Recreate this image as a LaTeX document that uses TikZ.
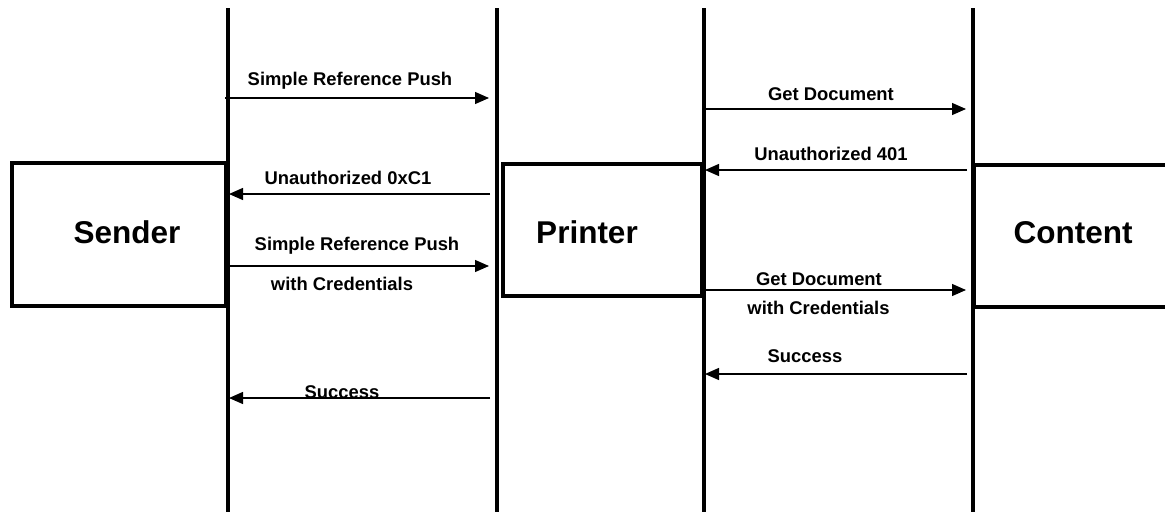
\documentclass[tikz,border=0pt]{standalone}
\usepackage{fontspec}
\setmainfont{Liberation Sans}
\usetikzlibrary{arrows.meta}
\tikzset{
  lifeline/.style={line width=4.2pt},
  actorbox/.style={line width=4pt},
  msg/.style={line width=1.3pt,-{Triangle[length=14pt,width=12pt]}},
  lbl/.style={anchor=base,inner sep=0pt,font=\bfseries\fontsize{18.4}{22}\selectfont},
  big/.style={anchor=base,inner sep=0pt,font=\bfseries\fontsize{31.5}{36}\selectfont}
}
\begin{document}
\begin{tikzpicture}[x=1pt,y=-1pt]
\useasboundingbox (0,0) rectangle (1165,512);
% lifeline ends
\coordinate (sT) at (228,8);  \coordinate (sB) at (228,512);
\coordinate (pT) at (497,8);  \coordinate (pB) at (497,512);
\coordinate (qT) at (704,8);  \coordinate (qB) at (704,512);
\coordinate (cT) at (973,8);  \coordinate (cB) at (973,512);
% boxes
\draw[actorbox] (12,163) rectangle (226,306);
\node[big] (sender) at (127,243) {Sender};
\draw[actorbox] (503,164) rectangle (702,296);
\node[big] (printer) at (587,243) {Printer};
\draw[actorbox] (1168,165) -- (974,165) -- (974,307) -- (1168,307);
\node[big] (content) at (1073,243) {Content};
% lifelines
\draw[lifeline] (sT) -- (sB);
\draw[lifeline] (pT) -- (pB);
\draw[lifeline] (qT) -- (qB);
\draw[lifeline] (cT) -- (cB);
% message end points
\coordinate (m1a) at (225,98);  \coordinate (m1b) at (489,98);
\coordinate (m2a) at (490,194); \coordinate (m2b) at (229,194);
\coordinate (m3a) at (229,266); \coordinate (m3b) at (489,266);
\coordinate (m4a) at (490,398); \coordinate (m4b) at (229,398);
\coordinate (m5a) at (705,109); \coordinate (m5b) at (966,109);
\coordinate (m6a) at (967,170); \coordinate (m6b) at (705,170);
\coordinate (m7a) at (705,290); \coordinate (m7b) at (966,290);
\coordinate (m8a) at (967,374); \coordinate (m8b) at (705,374);
% messages
\draw[msg] (m1a) -- (m1b);
\draw[msg] (m2a) -- (m2b);
\draw[msg] (m3a) -- (m3b);
\draw[msg] (m4a) -- (m4b);
\draw[msg] (m5a) -- (m5b);
\draw[msg] (m6a) -- (m6b);
\draw[msg] (m7a) -- (m7b);
\draw[msg] (m8a) -- (m8b);
% labels
\node[lbl] (l1) at (350,85) {Simple Reference Push};
\node[lbl] (l2) at (348,184) {Unauthorized 0xC1};
\node[lbl] (l3) at (357,250) {Simple Reference Push};
\node[lbl] (l3b) at (342,290.5) {with Credentials};
\node[lbl] (l4) at (342,398) {Success};
\node[lbl] (l5) at (831,100) {Get Document};
\node[lbl] (l6) at (831,160) {Unauthorized 401};
\node[lbl] (l7) at (819,285.5) {Get Document};
\node[lbl] (l7b) at (818.5,314) {with Credentials};
\node[lbl] (l8) at (805,362.5) {Success};
\end{tikzpicture}
\end{document}
